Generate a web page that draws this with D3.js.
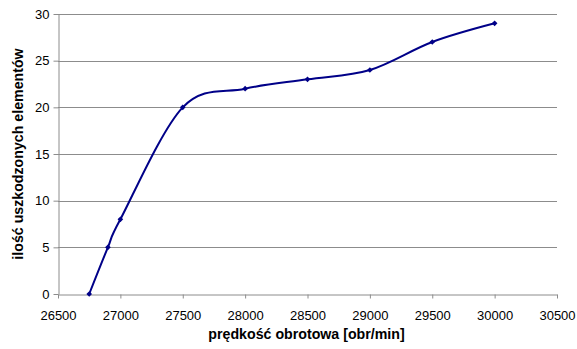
<!DOCTYPE html>
<html>
<head>
<meta charset="utf-8">
<script src="https://cdn.jsdelivr.net/npm/d3@7"></script>
<style>
  html, body { margin: 0; padding: 0; background: #fff; }
  svg { display: block; font-family: "Liberation Sans", Arial, sans-serif; }
</style>
</head>
<body>
<svg id="chart" width="577" height="349"></svg>
<script>
// rotational speed [rpm] and count of damaged elements
const speeds = [26750, 26900, 27000, 27500, 28000, 28500, 29000, 29500, 30000];
const damaged = [0, 5, 8, 20, 22, 23, 24, 27, 29];
const xTicks = [26500, 27000, 27500, 28000, 28500, 29000, 29500, 30000, 30500];
const yTicks = [0, 5, 10, 15, 20, 25, 30];

const svg = d3.select("#chart");
const margin = { left: 58, right: 20, top: 14, bottom: 55 };
const W = 577, H = 349;

const x = d3.scaleLinear().domain([26500, 30500]).range([margin.left, W - margin.right]);
const y = d3.scaleLinear().domain([0, 30]).range([H - margin.bottom, margin.top]);

const gridColor = "#8c8c8c";

// horizontal gridlines
svg.append("g")
  .selectAll("line")
  .data(yTicks.filter(d => d > 0))
  .join("line")
  .attr("x1", x(26500)).attr("x2", x(30500))
  .attr("y1", d => Math.round(y(d)) + 0.5).attr("y2", d => Math.round(y(d)) + 0.5)
  .attr("stroke", gridColor).attr("stroke-width", 1);

// y axis
const yAxis = svg.append("g")
  .attr("transform", `translate(${Math.round(x(26500)) + 0.5},0)`)
  .call(d3.axisLeft(y).tickValues(yTicks).tickSize(5).tickSizeOuter(0).tickPadding(4));

// x axis
const xAxis = svg.append("g")
  .attr("transform", `translate(0,${Math.round(y(0)) + 0.5})`)
  .call(d3.axisBottom(x).tickValues(xTicks).tickSize(4).tickSizeOuter(0).tickPadding(12).tickFormat(d3.format("d")));

[yAxis, xAxis].forEach(g => {
  g.select(".domain").attr("stroke", gridColor);
  g.selectAll(".tick line").attr("stroke", gridColor);
  g.selectAll(".tick text").attr("fill", "#000").style("font-size", "13px")
    .style("font-family", "'Liberation Sans', Arial, sans-serif");
});

// smoothed data line
const line = d3.line()
  .x((d, i) => x(speeds[i]))
  .y(d => y(d))
  .curve(d3.curveCardinal.tension(0));

svg.append("path")
  .datum(damaged)
  .attr("d", line)
  .attr("fill", "none")
  .attr("stroke", "#000088")
  .attr("stroke-width", 2);

// diamond markers (rotated squares)
svg.append("g")
  .selectAll("path")
  .data(damaged)
  .join("path")
  .attr("d", d3.symbol().type(d3.symbolSquare).size(16))
  .attr("transform", (d, i) => `translate(${x(speeds[i])},${y(d)}) rotate(45)`)
  .attr("fill", "#000088");

// axis titles
svg.append("text")
  .attr("x", (x(26500) + x(30500)) / 2 - 1)
  .attr("y", 339)
  .attr("text-anchor", "middle")
  .style("font-size", "14.2px").style("font-weight", "bold")
  .text("prędkość obrotowa [obr/min]");

svg.append("text")
  .attr("transform", `translate(23,${(y(0) + y(30)) / 2}) rotate(-90)`)
  .attr("text-anchor", "middle")
  .style("font-size", "14.2px").style("font-weight", "bold")
  .text("ilość uszkodzonych elementów");
</script>
</body>
</html>
